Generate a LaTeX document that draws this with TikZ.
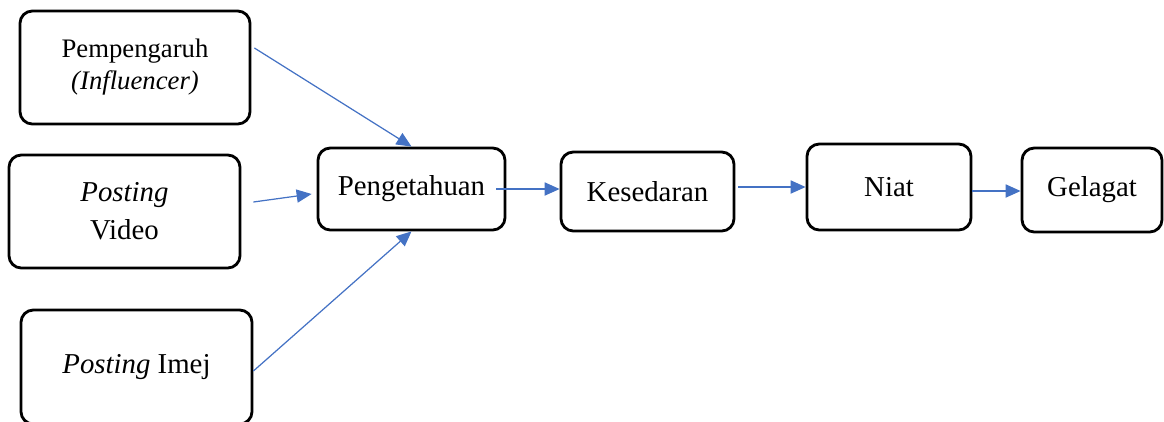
\documentclass[tikz,border=0pt]{standalone}
\usepackage{fontspec}
\setmainfont{Liberation Serif}
\usepackage{tikz}
\usetikzlibrary{positioning,arrows.meta}
\usepackage{xcolor}
\definecolor{wordBlue}{HTML}{4472C4}

\begin{document}
\begin{tikzpicture}[
  every node/.style={font=\fontsize{16.4}{21.6}\selectfont,inner sep=2pt},
  kotak/.style={draw=black,line width=1.6pt,rounded corners=7pt,align=center},
  e/.style={-{Triangle[length=8.5pt,width=7.5pt]},line width=0.7pt,color=wordBlue},
]
\useasboundingbox (0,0) rectangle (23.28,-8.42);

% Inputs -- left column
\node[kotak,minimum width=4.60cm,minimum height=2.26cm,font=\fontsize{15.2}{18.2}\selectfont]
  (infl) at (2.70,-1.35) {Pempengaruh\\\textit{(Influencer)}};
\node[kotak,minimum width=4.62cm,minimum height=2.26cm]
  (video) at (2.49,-4.23) {\textit{Posting}\\Video};
\node[kotak,minimum width=4.62cm,minimum height=2.28cm]
  (imej) at (2.73,-7.34) {\textit{Posting} Imej};

% Chain -- middle row
\node[kotak,minimum width=3.74cm,minimum height=1.64cm] (tahu)    at (8.23,-3.78)  {Pengetahuan};
\node[kotak,minimum width=3.46cm,minimum height=1.58cm] (sedar)   at (12.95,-3.83) {Kesedaran};
\node[kotak,minimum width=3.28cm,minimum height=1.72cm] (niat)    at (17.78,-3.74) {Niat};
\node[kotak,minimum width=2.80cm,minimum height=1.68cm] (gelagat) at (21.84,-3.80) {Gelagat};

\draw[e] ([xshift=0.06cm,yshift=0.39cm]infl.east) -- (tahu.north);
\draw[e] ([xshift=0.24cm,yshift=0.19cm]video.east) -- ([xshift=-0.1cm,yshift=-0.1cm]tahu.west);
\draw[e] ([yshift=-0.08cm]imej.east) -- (tahu.south);

\draw[e] ([xshift=-0.2cm]tahu.east) -- ([yshift=0.05cm]sedar.west);
\draw[e] ([xshift=0.06cm,yshift=0.09cm]sedar.east) -- (niat.west);
\draw[e] ([yshift=-0.08cm]niat.east) -- ([yshift=-0.02cm]gelagat.west);
\end{tikzpicture}
\end{document}
